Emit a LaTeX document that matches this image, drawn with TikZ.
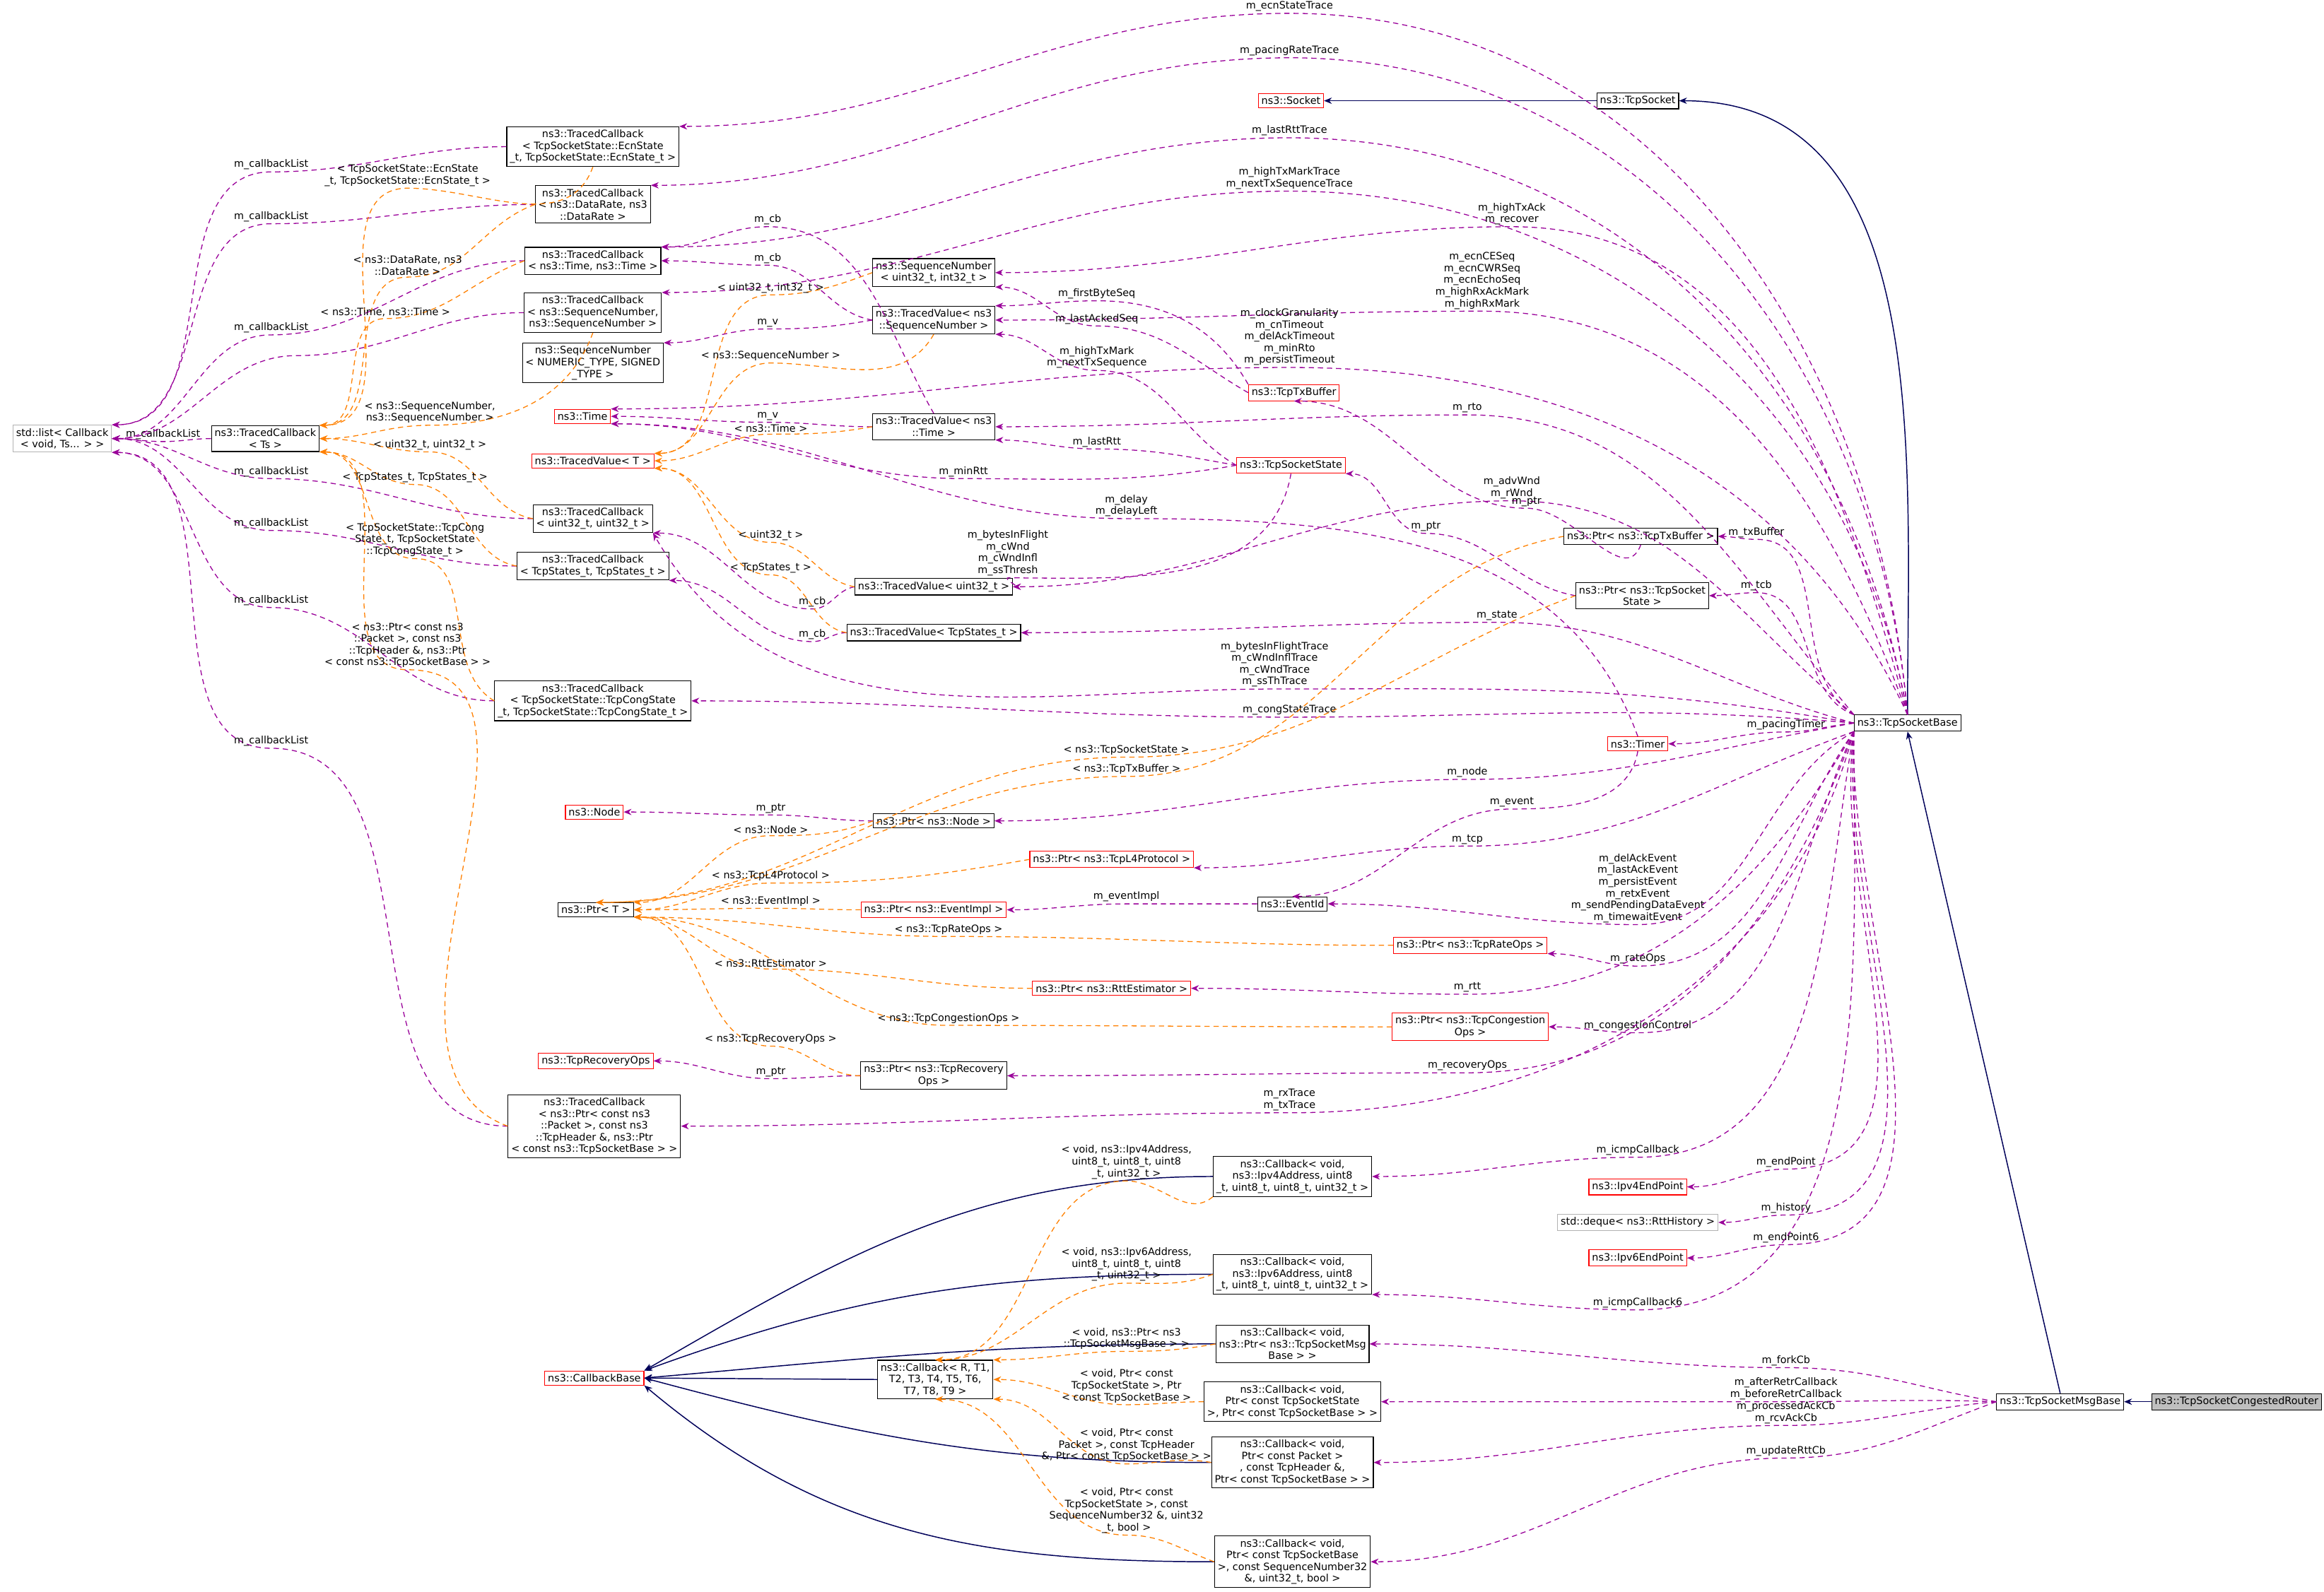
\documentclass[tikz,border=0pt]{standalone}
\usepackage{fontspec}
\setmainfont{DejaVu Sans}
\usetikzlibrary{arrows.meta}

\tikzset{
  box/.style={draw, fill=white, line width=0.3pt, font=\fontsize{3.9}{4.5}\selectfont, align=center, inner sep=1.2pt},
  redbox/.style={box, draw=red},
  graybox/.style={box, draw=gray!60},
  lbl/.style={font=\fontsize{3.9}{4.5}\selectfont, align=center, anchor=south, inner sep=0.6pt},
  mem/.style={draw=violet!80!magenta, dashed, line width=0.35pt, dash pattern=on 2pt off 1.5pt, -{Stealth[length=3pt,width=2.4pt]}},
  tmpl/.style={draw=orange, dashed, line width=0.35pt, dash pattern=on 2pt off 1.5pt, -{Stealth[length=3pt,width=2.4pt]}},
  inh/.style={draw=blue!35!black, line width=0.4pt, -{Stealth[length=3pt,width=2.4pt]}},
}
\newcommand\ed[6][mem]{\draw[#1] (#2) to[out=#3,in=0] (#4) node[lbl]{#5} to[out=180,in=0] (#6);}

\begin{document}
\begin{tikzpicture}[x=0.02cm, y=-0.02cm]
  \useasboundingbox (0,0) rectangle (1568,1074);

  % left column
  \node[graybox] (sl) at (42,296) {std::list< Callback\\< void, Ts... > >};
  \node[box] (tcts) at (179,296) {ns3::TracedCallback\\< Ts >};
  \node[box] (tce) at (400,99) {ns3::TracedCallback\\< TcpSocketState::EcnState\\\_t, TcpSocketState::EcnState\_t >};
  \node[box] (tcdr) at (400,138) {ns3::TracedCallback\\< ns3::DataRate, ns3\\::DataRate >};
  \node[box] (tctt) at (400,176) {ns3::TracedCallback\\< ns3::Time, ns3::Time >};
  \node[box] (tcsn) at (400,211) {ns3::TracedCallback\\< ns3::SequenceNumber,\\ns3::SequenceNumber >};
  \node[box] (snnum) at (400,245) {ns3::SequenceNumber\\< NUMERIC\_TYPE, SIGNED\\\_TYPE >};
  \node[redbox] (time) at (393,281) {ns3::Time};
  \node[redbox] (tvt) at (400,311) {ns3::TracedValue< T >};
  \node[box] (tcuu) at (400,350) {ns3::TracedCallback\\< uint32\_t, uint32\_t >};
  \node[box] (tcst) at (400,382) {ns3::TracedCallback\\< TcpStates\_t, TcpStates\_t >};
  \node[box] (tccong) at (400,473) {ns3::TracedCallback\\< TcpSocketState::TcpCongState\\\_t, TcpSocketState::TcpCongState\_t >};
  \node[redbox] (node) at (401,548) {ns3::Node};
  \node[box] (ptrt) at (402,614) {ns3::Ptr< T >};
  \node[redbox] (recops) at (402,716) {ns3::TcpRecoveryOps};
  \node[box] (tcpkt) at (401,760) {ns3::TracedCallback\\< ns3::Ptr< const ns3\\::Packet >, const ns3\\::TcpHeader \&, ns3::Ptr\\< const ns3::TcpSocketBase > >};
  \node[redbox] (cbbase) at (401,930) {ns3::CallbackBase};

  % middle column
  \node[box] (cbr) at (631,931) {ns3::Callback< R, T1,\\T2, T3, T4, T5, T6,\\T7, T8, T9 >};
  \node[box] (snu) at (630,184) {ns3::SequenceNumber\\< uint32\_t, int32\_t >};
  \node[box] (tvsn) at (630,216) {ns3::TracedValue< ns3\\::SequenceNumber >};
  \node[box] (tvtime) at (630,288) {ns3::TracedValue< ns3\\::Time >};
  \node[box] (tvu) at (630,396) {ns3::TracedValue< uint32\_t >};
  \node[box] (tvst) at (630,427) {ns3::TracedValue< TcpStates\_t >};
  \node[box] (ptrnode) at (630,554) {ns3::Ptr< ns3::Node >};
  \node[redbox] (ptrl4) at (750,580) {ns3::Ptr< ns3::TcpL4Protocol >};
  \node[redbox] (ptrev) at (630,614) {ns3::Ptr< ns3::EventImpl >};
  \node[redbox] (ptrrtt) at (750,667) {ns3::Ptr< ns3::RttEstimator >};
  \node[box] (ptrrec) at (630,726) {ns3::Ptr< ns3::TcpRecovery\\Ops >};

  % right-middle column
  \node[redbox] (socket) at (871,68) {ns3::Socket};
  \node[box] (tcpsock) at (1105,68) {ns3::TcpSocket};
  \node[redbox] (txbuf) at (873,265) {ns3::TcpTxBuffer};
  \node[redbox] (tss) at (871,314) {ns3::TcpSocketState};
  \node[box] (ptrtx) at (1107,362) {ns3::Ptr< ns3::TcpTxBuffer >};
  \node[box] (ptrtss) at (1108,402) {ns3::Ptr< ns3::TcpSocket\\State >};
  \node[redbox] (timer) at (1105,502) {ns3::Timer};
  \node[box] (evid) at (872,610) {ns3::EventId};
  \node[redbox] (ptrrate) at (992,638) {ns3::Ptr< ns3::TcpRateOps >};
  \node[redbox] (ptrcong) at (992,693) {ns3::Ptr< ns3::TcpCongestion\\Ops >};
  \node[box] (cb4) at (872,794) {ns3::Callback< void,\\ns3::Ipv4Address, uint8\\\_t, uint8\_t, uint8\_t, uint32\_t >};
  \node[redbox] (ep4) at (1105,801) {ns3::Ipv4EndPoint};
  \node[graybox] (hist) at (1105,825) {std::deque< ns3::RttHistory >};
  \node[box] (cb6) at (872,860) {ns3::Callback< void,\\ns3::Ipv6Address, uint8\\\_t, uint8\_t, uint8\_t, uint32\_t >};
  \node[redbox] (ep6) at (1105,849) {ns3::Ipv6EndPoint};
  \node[box] (cbmsg) at (872,907) {ns3::Callback< void,\\ns3::Ptr< ns3::TcpSocketMsg\\Base > >};
  \node[box] (cbst) at (872,946) {ns3::Callback< void,\\Ptr< const TcpSocketState\\>, Ptr< const TcpSocketBase > >};
  \node[box] (cbpk) at (872,987) {ns3::Callback< void,\\Ptr< const Packet >\\, const TcpHeader \&,\\Ptr< const TcpSocketBase > >};
  \node[box] (cbseq) at (872,1054) {ns3::Callback< void,\\Ptr< const TcpSocketBase\\>, const SequenceNumber32\\\&, uint32\_t, bool >};

  % right
  \node[box] (tsb) at (1287,488) {ns3::TcpSocketBase};
  \node[box] (tsmb) at (1390,946) {ns3::TcpSocketMsgBase};
  \node[box, fill=gray!50] (tscr) at (1509,946) {ns3::TcpSocketCongestedRouter};

  % inheritance
  \draw[inh] (tcpsock.west) -- (socket.east);
  \draw[inh] (tsb.north) to[out=90,in=0] (tcpsock.east);
  \draw[inh] (tsmb.north) -- (tsb.south);
  \draw[inh] (tscr.west) -- (tsmb.east);
  \draw[inh] (cb4.west) to[out=180,in=30] (cbbase.north east);
  \draw[inh] (cb6.west) to[out=180,in=20] (cbbase.north east);
  \draw[inh] (cbmsg.west) to[out=180,in=5] (cbbase.east);
  \draw[inh] (cbr.west) -- (cbbase.east);
  \draw[inh] (cbpk.west) to[out=180,in=-15] (cbbase.east);
  \draw[inh] (cbseq.west) to[out=180,in=-40] (cbbase.south east);

  % members of TcpSocketBase
  \ed{tsb.north}{95}{870,9}{m\_ecnStateTrace}{tce.north east}
  \ed{tsb.north}{95}{870,39}{m\_pacingRateTrace}{tcdr.north east}
  \ed{tsb.north}{100}{870,93}{m\_lastRttTrace}{tctt.north east}
  \ed{tsb.north}{100}{870,129}{m\_highTxMarkTrace\\m\_nextTxSequenceTrace}{tcsn.north east}
  \ed{tsb.north}{105}{1020,153}{m\_highTxAck\\m\_recover}{snu.east}
  \ed{tsb.north}{110}{1000,210}{m\_ecnCESeq\\m\_ecnCWRSeq\\m\_ecnEchoSeq\\m\_highRxAckMark\\m\_highRxMark}{tvsn.east}
  \ed{tsb.north}{115}{870,248}{m\_clockGranularity\\m\_cnTimeout\\m\_delAckTimeout\\m\_minRto\\m\_persistTimeout}{time.north east}
  \ed{tsb.north west}{130}{990,280}{m\_rto}{tvtime.east}
  \ed{tsb.north west}{140}{1020,338}{m\_advWnd\\m\_rWnd}{tvu.east}
  \ed{tsb.north west}{150}{1185,364}{m\_txBuffer}{ptrtx.east}
  \ed{tsb.north west}{160}{1185,400}{m\_tcb}{ptrtss.east}
  \ed{tsb.west}{165}{1010,420}{m\_state}{tvst.east}
  \draw[mem] (tsb.west) to[out=170,in=0] (860,465) node[lbl]{m\_bytesInFlightTrace\\m\_cWndInflTrace\\m\_cWndTrace\\m\_ssThTrace}
    to[out=180,in=-60] (tcuu.south east);
  \ed{tsb.west}{175}{870,484}{m\_congStateTrace}{tccong.east}
  \ed{tsb.west}{185}{1205,494}{m\_pacingTimer}{timer.east}
  \ed{tsb.west}{190}{990,526}{m\_node}{ptrnode.east}
  \ed{tsb.south west}{200}{990,571}{m\_tcp}{ptrl4.south east}
  \ed{tsb.south west}{210}{1105,624}{m\_delAckEvent\\m\_lastAckEvent\\m\_persistEvent\\m\_retxEvent\\m\_sendPendingDataEvent\\m\_timewaitEvent}{evid.east}
  \ed{tsb.south west}{235}{1105,652}{m\_rateOps}{ptrrate.south east}
  \ed{tsb.south west}{240}{990,671}{m\_rtt}{ptrrtt.east}
  \ed{tsb.south west}{245}{1105,697}{m\_congestionControl}{ptrcong.east}
  \ed{tsb.south west}{250}{990,724}{m\_recoveryOps}{ptrrec.east}
  \ed{tsb.south west}{255}{870,751}{m\_rxTrace\\m\_txTrace}{tcpkt.east}
  \ed{tsb.south west}{260}{1105,781}{m\_icmpCallback}{cb4.east}
  \ed{tsb.south west}{262}{1205,789}{m\_endPoint}{ep4.east}
  \ed{tsb.south west}{265}{1205,820}{m\_history}{hist.east}
  \ed{tsb.south west}{268}{1205,840}{m\_endPoint6}{ep6.east}
  \ed{tsb.south west}{270}{1105,884}{m\_icmpCallback6}{cb6.south east}

  % members of TcpSocketMsgBase
  \ed{tsmb.west}{170}{1205,923}{m\_forkCb}{cbmsg.east}
  \ed{tsmb.west}{178}{1205,946}{m\_afterRetrCallback\\m\_beforeRetrCallback}{cbst.east}
  \ed{tsmb.west}{185}{1205,962}{m\_processedAckCb\\m\_rcvAckCb}{cbpk.east}
  \ed{tsmb.west}{200}{1205,984}{m\_updateRttCb}{cbseq.east}

  % callback lists
  \ed{tcts.west}{180}{110,298}{m\_callbackList}{sl.east}
  \ed{tce.west}{180}{183,116}{m\_callbackList}{sl.north east}
  \ed{tcdr.west}{180}{183,151}{m\_callbackList}{sl.north east}
  \ed{tctt.west}{180}{183,226}{m\_callbackList}{sl.east}
  \ed{tcsn.west}{180}{200,240}{}{sl.east}
  \ed{tcuu.west}{180}{183,323}{m\_callbackList}{sl.east}
  \ed{tcst.west}{180}{183,358}{m\_callbackList}{sl.east}
  \ed{tccong.west}{180}{183,410}{m\_callbackList}{sl.south east}
  \ed{tcpkt.west}{180}{183,505}{m\_callbackList}{sl.south east}

  % value members
  \ed{tvtime.north}{120}{518,153}{m\_cb}{tctt.north east}
  \ed{tvsn.west}{170}{518,179}{m\_cb}{tctt.east}
  \ed{tvsn.west}{190}{518,222}{m\_v}{snnum.north east}
  \ed{tvtime.west}{180}{518,285}{m\_v}{time.east}
  \ed{tvu.west}{190}{548,411}{m\_cb}{tcuu.south east}
  \ed{tvst.west}{180}{548,433}{m\_cb}{tcst.south east}
  \ed{tss.west}{150}{740,250}{m\_highTxMark\\m\_nextTxSequence}{tvsn.south east}
  \ed{tss.west}{170}{740,303}{m\_lastRtt}{tvtime.south east}
  \ed{tss.west}{190}{650,323}{m\_minRtt}{time.south east}
  \ed{tss.south}{260}{680,390}{m\_bytesInFlight\\m\_cWnd\\m\_cWndInfl\\m\_ssThresh}{tvu.east}
  \ed{txbuf.north west}{120}{740,203}{m\_firstByteSeq}{tvsn.north east}
  \ed{txbuf.west}{150}{740,220}{m\_lastAckedSeq}{snu.south east}
  \ed{ptrtx.south}{250}{1030,343}{m\_ptr}{txbuf.south}
  \ed{ptrtss.west}{170}{962,360}{m\_ptr}{tss.south east}
  \ed{timer.north}{110}{760,350}{m\_delay\\m\_delayLeft}{time.south east}
  \ed{timer.south}{260}{1020,546}{m\_event}{evid.north}
  \ed{ptrnode.west}{180}{520,550}{m\_ptr}{node.east}
  \ed{evid.west}{180}{760,610}{m\_eventImpl}{ptrev.east}
  \ed{ptrrec.west}{180}{520,728}{m\_ptr}{recops.east}

  % template instances
  \ed[tmpl]{tce.south}{250}{275,127}{< TcpSocketState::EcnState\\\_t, TcpSocketState::EcnState\_t >}{tcts.north east}
  \ed[tmpl]{tcdr.west}{200}{275,187}{< ns3::DataRate, ns3\\::DataRate >}{tcts.north east}
  \ed[tmpl]{tctt.west}{200}{260,215}{< ns3::Time, ns3::Time >}{tcts.north east}
  \ed[tmpl]{tcsn.south}{250}{290,287}{< ns3::SequenceNumber,\\ns3::SequenceNumber >}{tcts.east}
  \ed[tmpl]{tcuu.west}{170}{290,305}{< uint32\_t, uint32\_t >}{tcts.east}
  \ed[tmpl]{tcst.west}{170}{280,327}{< TcpStates\_t, TcpStates\_t >}{tcts.south east}
  \ed[tmpl]{tccong.west}{150}{280,377}{< TcpSocketState::TcpCong\\State\_t, TcpSocketState\\::TcpCongState\_t >}{tcts.south east}
  \ed[tmpl]{tcpkt.west}{160}{275,452}{< ns3::Ptr< const ns3\\::Packet >, const ns3\\::TcpHeader \&, ns3::Ptr\\< const ns3::TcpSocketBase > >}{tcts.south east}
  \ed[tmpl]{snu.west}{200}{520,199}{< uint32\_t, int32\_t >}{tvt.north east}
  \ed[tmpl]{tvsn.south}{240}{520,245}{< ns3::SequenceNumber >}{tvt.north east}
  \ed[tmpl]{tvtime.west}{190}{520,293}{< ns3::Time >}{tvt.east}
  \ed[tmpl]{tvu.west}{170}{520,366}{< uint32\_t >}{tvt.south east}
  \ed[tmpl]{tvst.west}{170}{520,388}{< TcpStates\_t >}{tvt.south east}
  \ed[tmpl]{ptrtss.west}{200}{760,511}{< ns3::TcpSocketState >}{ptrt.north}
  \ed[tmpl]{ptrtx.west}{190}{760,524}{< ns3::TcpTxBuffer >}{ptrt.north}
  \ed[tmpl]{ptrnode.west}{200}{520,564}{< ns3::Node >}{ptrt.north east}
  \ed[tmpl]{ptrl4.west}{190}{520,596}{< ns3::TcpL4Protocol >}{ptrt.east}
  \ed[tmpl]{ptrev.west}{180}{520,613}{< ns3::EventImpl >}{ptrt.east}
  \ed[tmpl]{ptrrate.west}{180}{640,632}{< ns3::TcpRateOps >}{ptrt.south east}
  \ed[tmpl]{ptrrtt.west}{180}{520,654}{< ns3::RttEstimator >}{ptrt.south east}
  \ed[tmpl]{ptrcong.west}{180}{640,692}{< ns3::TcpCongestionOps >}{ptrt.south east}
  \ed[tmpl]{ptrrec.west}{180}{520,706}{< ns3::TcpRecoveryOps >}{ptrt.south east}
  \ed[tmpl]{cb4.south west}{220}{760,797}{< void, ns3::Ipv4Address,\\uint8\_t, uint8\_t, uint8\\\_t, uint32\_t >}{cbr.north}
  \ed[tmpl]{cb6.west}{200}{760,866}{< void, ns3::Ipv6Address,\\uint8\_t, uint8\_t, uint8\\\_t, uint32\_t >}{cbr.north}
  \ed[tmpl]{cbmsg.west}{190}{760,912}{< void, ns3::Ptr< ns3\\::TcpSocketMsgBase > >}{cbr.north east}
  \ed[tmpl]{cbst.west}{180}{760,948}{< void, Ptr< const\\TcpSocketState >, Ptr\\< const TcpSocketBase >}{cbr.east}
  \ed[tmpl]{cbpk.west}{170}{760,988}{< void, Ptr< const\\Packet >, const TcpHeader\\\&, Ptr< const TcpSocketBase > >}{cbr.south east}
  \ed[tmpl]{cbseq.west}{160}{760,1036}{< void, Ptr< const\\TcpSocketState >, const\\SequenceNumber32 \&, uint32\\\_t, bool >}{cbr.south}
\end{tikzpicture}
\end{document}
